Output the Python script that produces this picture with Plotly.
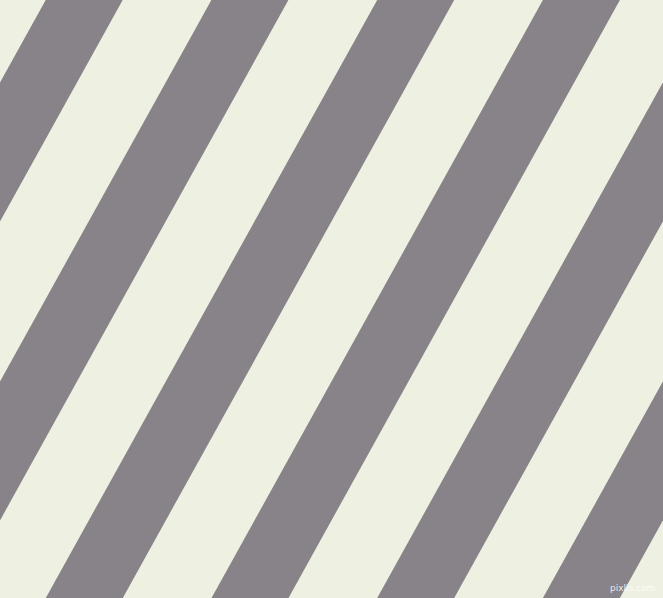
"""
Diagonal stripes pattern
Gray bands on a cream background, rising to the right
"""

import plotly.graph_objects as go

# canvas size in px
WIDTH = 663
HEIGHT = 598

# left edge of each gray band where it meets the top edge
band_top_left = [-285.7, -120.0, 45.7, 211.4, 377.2, 542.9, 708.6, 874.3, 1040.0]
band_width = 77.0        # horizontal width of a gray band
band_shift = 331.4       # how far a band moves left from top to bottom

bg_color = '#EEF0E2'
band_color = '#888388'

fig = go.Figure()

for x0 in band_top_left:
    xs = [x0, x0 + band_width, x0 + band_width - band_shift, x0 - band_shift, x0]
    ys = [0, 0, HEIGHT, HEIGHT, 0]
    fig.add_trace(go.Scatter(
        x=xs,
        y=ys,
        mode='lines',
        fill='toself',
        fillcolor=band_color,
        line=dict(width=0, color=band_color),
        hoverinfo='skip',
        showlegend=False
    ))

# small watermark bottom right
fig.add_annotation(
    x=632, y=588,
    text='pixlis.com',
    showarrow=False,
    font=dict(family='DejaVu Sans', size=9, color='rgba(255,255,255,0.85)'),
    xanchor='center', yanchor='middle'
)

fig.update_layout(
    width=WIDTH,
    height=HEIGHT,
    margin=dict(l=0, r=0, t=0, b=0),
    paper_bgcolor=bg_color,
    plot_bgcolor=bg_color,
    xaxis=dict(range=[0, WIDTH], visible=False, fixedrange=True),
    yaxis=dict(range=[HEIGHT, 0], visible=False, fixedrange=True),
    showlegend=False
)

# drop the default page margin so the figure fills the window
fig.write_html(
    "out.html",
    config={'displayModeBar': False},
    post_script="document.body.style.margin='0';document.body.style.overflow='hidden';"
)
